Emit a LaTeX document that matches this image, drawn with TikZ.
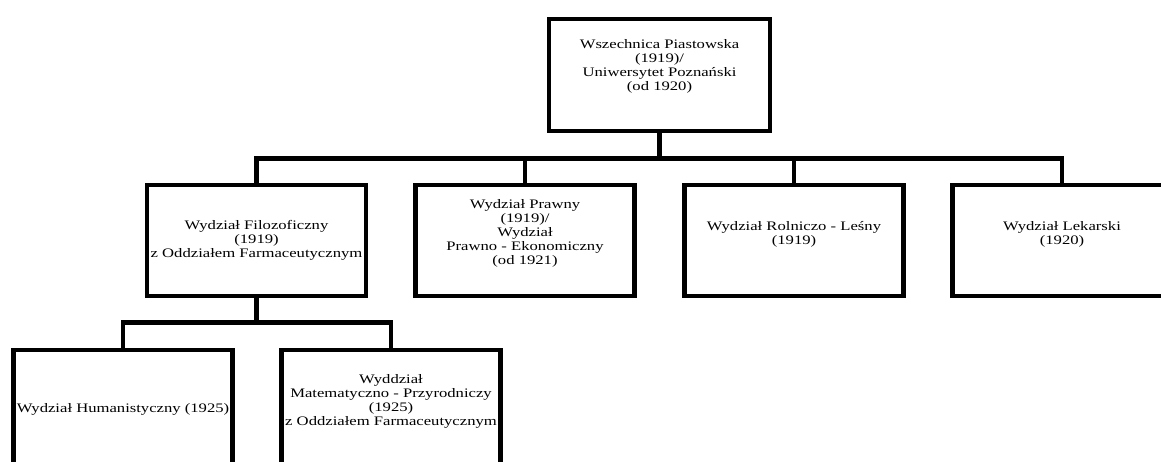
\documentclass[tikz,border=0pt]{standalone}
\usepackage{fontspec}
\setmainfont{Liberation Serif}[FakeStretch=1.28]

\begin{document}
\begin{tikzpicture}[x=1pt,y=-1pt,
  unit/.style={draw=black,line width=4.5pt,fill=white,minimum width=219pt,minimum height=111pt,inner sep=0pt},
  txt/.style={align=center,font=\fontsize{13}{14}\selectfont,inner sep=0pt},
  conn/.style={line width=4.5pt}]
\useasboundingbox (0,0) rectangle (1161,461);

% uczelnia
\node[unit,minimum width=221pt,minimum height=112pt,label={[txt,yshift=9pt]center:Wszechnica Piastowska\\(1919)/\\Uniwersytet Poznański\\(od 1920)}] (U) at (659.5,75) {};

% wydzialy 1919-1920
\node[unit,label={[txt]center:Wydział Filozoficzny\\(1919)\\z Oddziałem Farmaceutycznym}] (F) at (256.5,240.5) {};
\node[unit,label={[txt,yshift=7pt]center:Wydział Prawny\\(1919)/\\Wydział\\Prawno - Ekonomiczny\\(od 1921)}] (P) at (525,240.5) {};
\node[unit,label={[txt,yshift=6pt]center:Wydział Rolniczo - Leśny\\(1919)}] (R) at (794,240.5) {};
\node[unit,label={[txt,yshift=6pt]center:Wydział Lekarski\\(1920)}] (L) at (1062,240.5) {};

% podzial 1925
\node[unit,minimum height=118pt,label={[txt]center:Wydział Humanistyczny (1925)}] (H) at (123,409) {};
\node[unit,minimum height=118pt,label={[txt,yshift=8pt]center:Wyddział\\Matematyczno - Przyrodniczy\\(1925)\\z Oddziałem Farmaceutycznym}] (M) at (391,409) {};

\draw[conn] (U.south) -- ++(0,25) coordinate (bus);
\draw[conn] (F.north) |- (bus) -| (L.north);
\draw[conn] (P.north) -- (P.north |- bus);
\draw[conn] (R.north) -- (R.north |- bus);

\draw[conn] (F.south) -- ++(0,24) coordinate (sub);
\draw[conn] (H.north) |- (sub) -| (M.north);

\end{tikzpicture}
\end{document}
